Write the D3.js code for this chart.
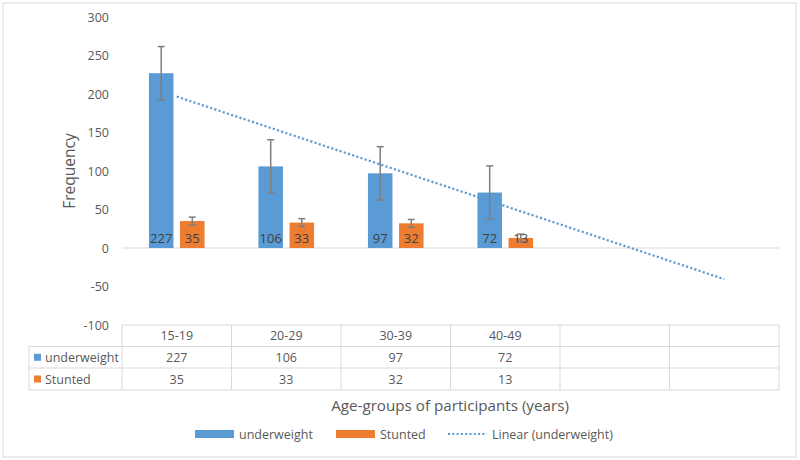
<!DOCTYPE html>
<html>
<head>
<meta charset="utf-8">
<script src="https://cdn.jsdelivr.net/npm/d3@7"></script>
<style>
  html, body { margin: 0; padding: 0; background: #fff; }
  svg { display: block; font-family: "Open Sans", "Noto Sans", sans-serif; }
</style>
</head>
<body>
<svg id="chart" width="800" height="460"></svg>
<script>
// ---- data ----
const categories = ["15-19", "20-29", "30-39", "40-49", "", ""];
const underweight = [227, 106, 97, 72];
const stunted = [35, 33, 32, 13];
const underweightErr = [34.6, 34.6, 34.6, 34.6];
const stuntedErr = [5.1, 5.1, 5.1, 5.1];
const yTicks = [-100, -50, 0, 50, 100, 150, 200, 250, 300];
const seriesNames = ["underweight", "Stunted"];
const trendName = "Linear (underweight)";
const yTitle = "Frequency";
const xTitle = "Age-groups of participants (years)";

// ---- style ----
const BLUE = "#5B9BD5", ORANGE = "#ED7D31", TXT = "#595959", GRID = "#D9D9D9";

const svg = d3.select("#chart");

// outer chart border
svg.append("rect").attr("x", 3).attr("y", 3).attr("width", 793).attr("height", 454)
  .attr("fill", "none").attr("stroke", GRID).attr("stroke-width", 1);

const x = d3.scaleBand().domain(d3.range(categories.length)).range([122, 779]).padding(0);
const y = d3.scaleLinear().domain([-100, 300]).range([325, 17]);

const bw = x.bandwidth();
const barW = bw * 0.224;
const gap = bw * 0.06;

// y axis (labels only)
const yAxis = d3.axisLeft(y).tickValues(yTicks).tickSize(0).tickPadding(0)
  .tickFormat(d => String(d));
const gy = svg.append("g").attr("transform", "translate(109,0)").call(yAxis);
gy.select(".domain").remove();
gy.selectAll("text").attr("fill", TXT).attr("font-size", 12.5)
  .attr("font-family", "'Open Sans', sans-serif");

// y title
svg.append("text").attr("transform", `translate(75,${(y.range()[0] + y.range()[1]) / 2}) rotate(-90)`)
  .attr("text-anchor", "middle").attr("fill", TXT).attr("font-size", 15.5).text(yTitle);

// zero line
svg.append("line").attr("x1", x.range()[0]).attr("x2", x.range()[1])
  .attr("y1", y(0)).attr("y2", y(0)).attr("stroke", GRID).attr("stroke-width", 1);

const bx = [i => x(i) + bw / 2 - gap / 2 - barW, i => x(i) + bw / 2 + gap / 2];
const series = [underweight, stunted];
const errs = [underweightErr, stuntedErr];
const colors = [BLUE, ORANGE];

series.forEach((vals, s) => {
  const g = svg.append("g");
  g.selectAll("rect").data(vals).join("rect")
    .attr("x", (d, i) => bx[s](i)).attr("width", barW)
    .attr("y", d => y(d)).attr("height", d => y(0) - y(d))
    .attr("fill", colors[s]);
});

// data labels
series.forEach((vals, s) => {
  svg.append("g").selectAll("text").data(vals).join("text")
    .attr("x", (d, i) => bx[s](i) + barW / 2).attr("y", y(0) - 10)
    .attr("text-anchor", "middle").attr("dominant-baseline", "central")
    .attr("fill", "#404040").attr("font-size", 13).text(d => d);
});

// error bars
series.forEach((vals, s) => {
  const g = svg.append("g").attr("stroke", "#7F7F7F").attr("stroke-width", 1.5);
  vals.forEach((d, i) => {
    const cx = bx[s](i) + barW / 2, e = errs[s][i];
    g.append("line").attr("x1", cx).attr("x2", cx).attr("y1", y(d + e)).attr("y2", y(d - e));
    [d + e, d - e].forEach(v => g.append("line").attr("x1", cx - 3.5).attr("x2", cx + 3.5)
      .attr("y1", y(v)).attr("y2", y(v)));
  });
});

// linear trendline (least squares on underweight, forecast to last category)
const xs = underweight.map((d, i) => i + 1);
const mx = d3.mean(xs), my = d3.mean(underweight);
const slope = d3.sum(xs, (xv, i) => (xv - mx) * (underweight[i] - my)) / d3.sum(xs, xv => (xv - mx) ** 2);
const icpt = my - slope * mx;
const tStart = 0, tEnd = categories.length - 1;
svg.append("line")
  .attr("x1", x(tStart) + bw / 2).attr("y1", y(icpt + slope * (tStart + 1)))
  .attr("x2", x(tEnd) + bw / 2).attr("y2", y(icpt + slope * (tEnd + 1)))
  .attr("stroke", BLUE).attr("stroke-width", 2.2).attr("stroke-dasharray", "2.2,2.2");

// data table
const rows = [325, 346.5, 368, 390];
const tg = svg.append("g").attr("stroke", GRID).attr("stroke-width", 1).attr("fill", "none");
tg.append("line").attr("x1", 122).attr("x2", 779).attr("y1", rows[0]).attr("y2", rows[0]);
[1, 2, 3].forEach(r => tg.append("line").attr("x1", 29).attr("x2", 779).attr("y1", rows[r]).attr("y2", rows[r]));
tg.append("line").attr("x1", 29).attr("x2", 29).attr("y1", rows[1]).attr("y2", rows[3]);
d3.range(categories.length + 1).forEach(i => {
  const xx = i < categories.length ? x(i) : x.range()[1];
  tg.append("line").attr("x1", xx).attr("x2", xx).attr("y1", rows[0]).attr("y2", rows[3]);
});
const tt = svg.append("g").attr("fill", TXT).attr("font-size", 12.5).attr("text-anchor", "middle");
categories.forEach((c, i) => tt.append("text").attr("x", x(i) + bw / 2)
  .attr("y", (rows[0] + rows[1]) / 2).attr("dominant-baseline", "central").text(c));
series.forEach((vals, s) => {
  vals.forEach((d, i) => tt.append("text").attr("x", x(i) + bw / 2)
    .attr("y", (rows[s + 1] + rows[s + 2]) / 2).attr("dominant-baseline", "central").text(d));
  svg.append("rect").attr("x", 34).attr("y", (rows[s + 1] + rows[s + 2]) / 2 - 3.5)
    .attr("width", 7).attr("height", 7).attr("fill", colors[s]);
  svg.append("text").attr("x", 45).attr("y", (rows[s + 1] + rows[s + 2]) / 2)
    .attr("dominant-baseline", "central").attr("fill", TXT).attr("font-size", 12.5).text(seriesNames[s]);
});

// x title
svg.append("text").attr("x", 450).attr("y", 405).attr("text-anchor", "middle")
  .attr("dominant-baseline", "central").attr("fill", TXT).attr("font-size", 15.2).text(xTitle);

// legend
const ly = 434;
const lg = svg.append("g").attr("font-size", 12.5).attr("fill", TXT);
[[195, 239], [336, 380]].forEach((p, s) => {
  lg.append("rect").attr("x", p[0]).attr("y", ly - 4).attr("width", 39).attr("height", 8).attr("fill", colors[s]);
  lg.append("text").attr("x", p[1]).attr("y", ly).attr("dominant-baseline", "central").text(seriesNames[s]);
});
lg.append("line").attr("x1", 448).attr("x2", 487).attr("y1", ly).attr("y2", ly)
  .attr("stroke", BLUE).attr("stroke-width", 2).attr("stroke-dasharray", "2,2.3");
lg.append("text").attr("x", 492).attr("y", ly).attr("dominant-baseline", "central").text(trendName);
</script>
</body>
</html>
